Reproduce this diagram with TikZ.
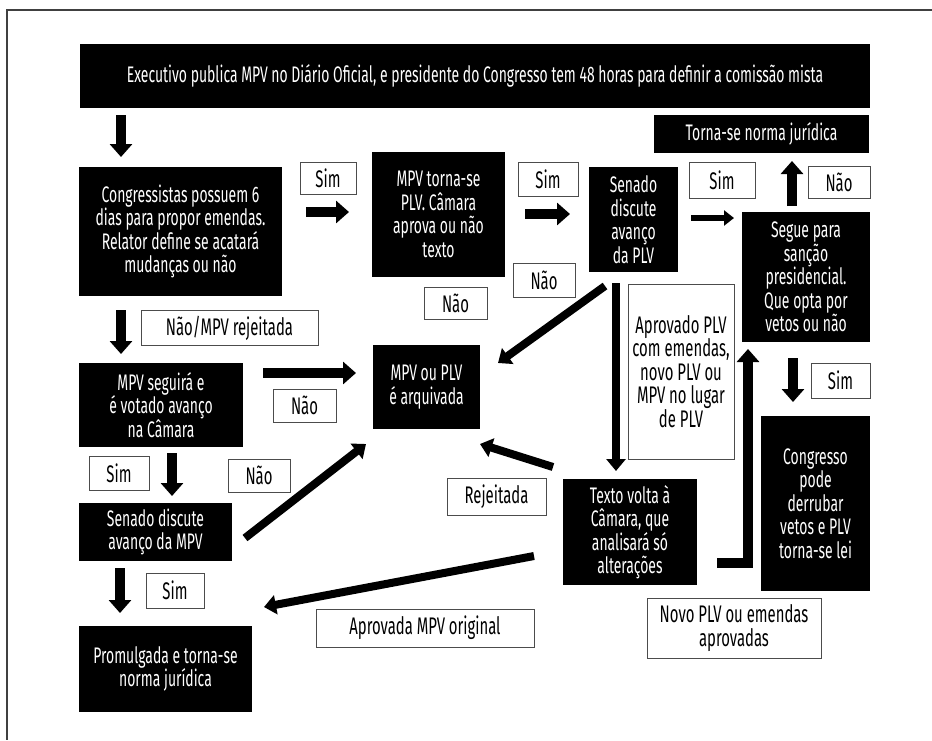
\documentclass[tikz,border=0pt]{standalone}
\usepackage{fontspec}
\setmainfont[FakeStretch=0.62]{Fira Sans}
\usetikzlibrary{arrows.meta}
\begin{document}
\begin{tikzpicture}[x=1pt,y=-1pt,
  bbox/.style={fill=black, text=white, align=center, inner sep=0pt, font=\fontsize{22.5}{23.5}\selectfont},
  lbox/.style={fill=white, draw=black!70, line width=1pt, align=center, inner sep=0pt, font=\fontsize{24}{23.5}\selectfont},
  arr/.style={line width=10pt, -{Triangle[width=22pt,length=13pt]}},
  darr/.style={line width=8pt, -{Triangle[width=19pt,length=12pt]}},
  tarr/.style={line width=6pt, -{Triangle[width=15pt,length=10pt]}},
  frameline/.style={draw=black!75, line width=2pt}]
\useasboundingbox (0,0) rectangle (932,740);
\coordinate (f1) at (932,10);
\coordinate (f2) at (7,10);
\coordinate (f3) at (7,740);
\draw[frameline] (f1) -- (f2) -- (f3);

% black boxes
\node[bbox, minimum width=790pt, minimum height=64pt] (top) at (475,76) {Executivo publica MPV no Diário Oficial, e presidente do Congresso tem 48 horas para definir a comissão mista};
\node[bbox, minimum width=203pt, minimum height=129pt] (cong) at (180.5,231.5) {Congressistas possuem 6\\dias para propor emendas.\\Relator define se acatará\\mudanças ou não};
\node[bbox, minimum width=133pt, minimum height=125pt] (plv) at (438.5,214.5) {MPV torna-se\\PLV. Câmara\\aprova ou não\\texto};
\node[bbox, minimum width=89pt, minimum height=105pt] (senplv) at (633.5,219.5) {Senado\\discute\\avanço\\da PLV};
\node[bbox, minimum width=215pt, minimum height=38pt] (torna) at (761.5,134) {Torna-se norma jurídica};
\node[bbox, minimum width=128pt, minimum height=130pt] (segue) at (806,277) {Segue para\\sanção\\presidencial.\\Que opta por\\vetos ou não};
\node[bbox, minimum width=107pt, minimum height=84pt] (arq) at (426.5,387) {MPV ou PLV\\é arquivada};
\node[bbox, minimum width=164pt, minimum height=84pt] (seguira) at (161,405) {MPV seguirá e\\é votado avanço\\na Câmara};
\node[bbox, minimum width=153pt, minimum height=58pt] (senmpv) at (155.5,532) {Senado discute\\avanço da MPV};
\node[bbox, minimum width=173pt, minimum height=86pt] (prom) at (165.5,669) {Promulgada e torna-se\\norma jurídica};
\node[bbox, minimum width=134pt, minimum height=106pt] (texto) at (630,532) {Texto volta à\\Câmara, que\\analisará só\\alterações};
\node[bbox, minimum width=109pt, minimum height=175pt] (congr) at (815.5,503.5) {Congresso\\pode\\derrubar\\vetos e PLV\\torna-se lei};

% labels
\node[lbox, minimum width=56pt, minimum height=32pt] (l1) at (328,178) {Sim};
\node[lbox, minimum width=63pt, minimum height=32pt] (l2) at (455.5,303) {Não};
\node[lbox, minimum width=60pt, minimum height=34pt] (l3) at (548,179) {Sim};
\node[lbox, minimum width=62pt, minimum height=34pt] (l4) at (544,280) {Não};
\node[lbox, minimum width=66pt, minimum height=36pt] (l5) at (722,180) {Sim};
\node[lbox, minimum width=62pt, minimum height=32pt] (l6) at (839,182) {Não};
\node[lbox, minimum width=177pt, minimum height=35pt] (l7) at (229.5,328) {Não/MPV rejeitada};
\node[lbox, minimum width=63pt, minimum height=33pt] (l8) at (304.5,405.5) {Não};
\node[lbox, minimum width=60pt, minimum height=34pt] (l9) at (119,473) {Sim};
\node[lbox, minimum width=62pt, minimum height=33pt] (l10) at (259,475.5) {Não};
\node[lbox, minimum width=99pt, minimum height=37pt] (l11) at (496.5,496.5) {Rejeitada};
\node[lbox, minimum width=59pt, minimum height=35pt] (l12) at (840.5,380.5) {Sim};
\node[lbox, minimum width=106pt, minimum height=175pt] (l13) at (681,371.5) {Aprovado PLV\\com emendas,\\novo PLV ou\\MPV no lugar\\de PLV};
\node[lbox, minimum width=174pt, minimum height=60pt] (l14) at (734,628) {Novo PLV ou emendas\\aprovadas};
\node[lbox, minimum width=58pt, minimum height=35pt] (l15) at (175,590.5) {Sim};
\node[lbox, minimum width=218pt, minimum height=38pt] (l16) at (425,628) {Aprovada MPV original};

% arrow end points
\coordinate (a1s) at (121,115); \coordinate (a1e) at (121,157);
\coordinate (a2s) at (306,212); \coordinate (a2e) at (349,212);
\coordinate (a3s) at (525,214); \coordinate (a3e) at (570,214);
\coordinate (a4s) at (691,218); \coordinate (a4e) at (734,218);
\coordinate (a5s) at (792,206); \coordinate (a5e) at (792,161);
\coordinate (a6s) at (121,310); \coordinate (a6e) at (121,354);
\coordinate (a7s) at (263,373); \coordinate (a7e) at (356,373);
\coordinate (a8s) at (172,453); \coordinate (a8e) at (172,496);
\coordinate (a9s) at (245,538); \coordinate (a9e) at (366,444);
\coordinate (a10s) at (605,286); \coordinate (a10e) at (498,363);
\coordinate (a11s) at (616,283); \coordinate (a11e) at (616,471);
\coordinate (a12s) at (553,467); \coordinate (a12e) at (480,444);
\coordinate (a13s) at (717,563); \coordinate (a13m) at (748,563); \coordinate (a13e) at (748,349);
\coordinate (a14s) at (793,358); \coordinate (a14e) at (793,402);
\coordinate (a15s) at (534,556); \coordinate (a15e) at (264,607);
\coordinate (a16s) at (120,568); \coordinate (a16e) at (120,613);

\draw[arr] (a1s) -- (a1e);
\draw[arr] (a2s) -- (a2e);
\draw[arr] (a3s) -- (a3e);
\draw[tarr] (a4s) -- (a4e);
\draw[arr] (a5s) -- (a5e);
\draw[arr] (a6s) -- (a6e);
\draw[arr] (a7s) -- (a7e);
\draw[arr] (a8s) -- (a8e);
\draw[darr] (a9s) -- (a9e);
\draw[darr] (a10s) -- (a10e);
\draw[darr] (a11s) -- (a11e);
\draw[darr] (a12s) -- (a12e);
\draw[arr, line join=miter] (a13s) -- (a13m) -- (a13e);
\draw[arr] (a14s) -- (a14e);
\draw[darr] (a15s) -- (a15e);
\draw[arr] (a16s) -- (a16e);
\end{tikzpicture}
\end{document}
